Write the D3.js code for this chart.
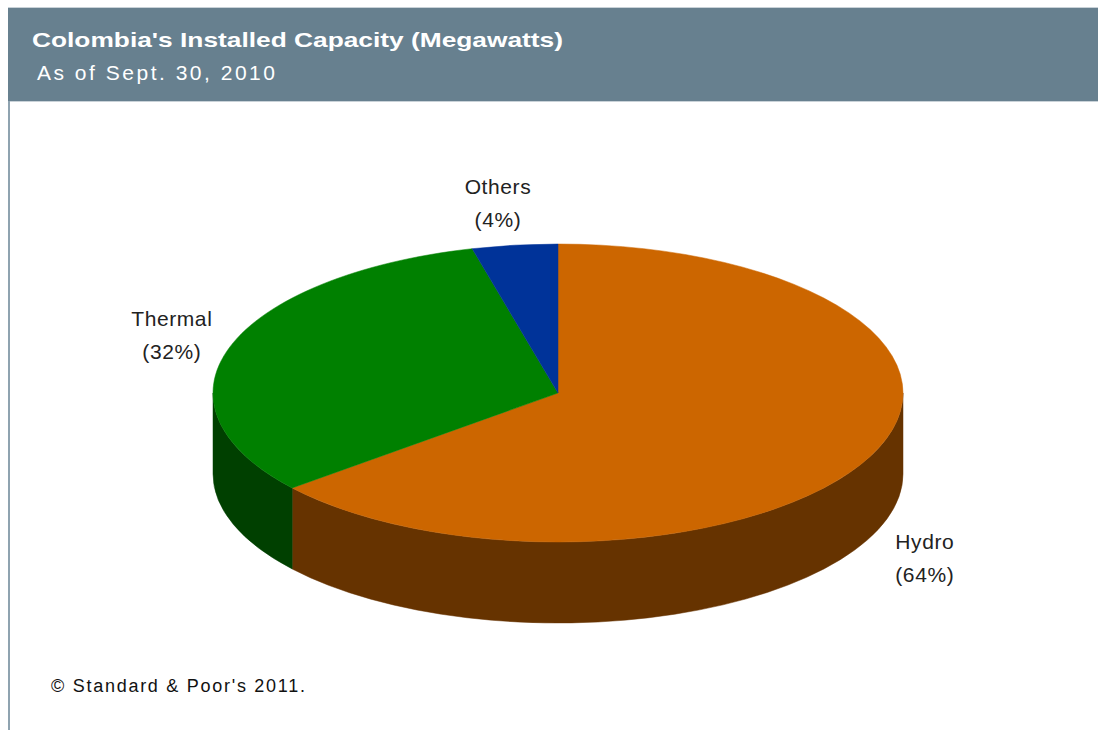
<!DOCTYPE html>
<html>
<head>
<meta charset="utf-8">
<script src="https://cdn.jsdelivr.net/npm/d3@7"></script>
<style>
  body { margin: 0; background: #fff; }
  svg { display: block; }
  text { font-family: "Liberation Sans", Arial, sans-serif; }
</style>
</head>
<body>
<script>
// chart data
const categories = ["Hydro", "Thermal", "Others"];
const shares = [64, 32, 4];
const topColors = ["#cc6600", "#008000", "#003399"];
const sideColors = ["#663300", "#004000", "#001a4d"];

const titleText = "Colombia's Installed Capacity (Megawatts)";
const subtitleText = "As of Sept. 30, 2010";
const footerText = "\u00a9 Standard & Poor's 2011.";

function ellipsePoint(cx, cy, rx, ry, a) {
  // d3.pie angles: 0 at 12 o'clock, clockwise
  return [cx + rx * Math.sin(a), cy - ry * Math.cos(a)];
}

function topPath(d, geo) {
  const { cx, cy, rx, ry } = geo;
  const p0 = ellipsePoint(cx, cy, rx, ry, d.startAngle);
  const p1 = ellipsePoint(cx, cy, rx, ry, d.endAngle);
  const large = d.endAngle - d.startAngle > Math.PI ? 1 : 0;
  return `M${cx},${cy}L${p0}A${rx},${ry} 0 ${large} 1 ${p1}Z`;
}

function sidePath(d, geo) {
  const { cx, cy, rx, ry, depth } = geo;
  // only the front half (90deg..270deg) is visible
  const a0 = Math.max(d.startAngle, Math.PI / 2);
  const a1 = Math.min(d.endAngle, Math.PI * 1.5);
  if (a1 <= a0) return null;
  const t0 = ellipsePoint(cx, cy, rx, ry, a0);
  const t1 = ellipsePoint(cx, cy, rx, ry, a1);
  const b0 = ellipsePoint(cx, cy + depth, rx, ry, a0);
  const b1 = ellipsePoint(cx, cy + depth, rx, ry, a1);
  return `M${t0}A${rx},${ry} 0 0 1 ${t1}L${b1}A${rx},${ry} 0 0 0 ${b0}Z`;
}

function drawChart(width = 1098, height = 730) {

  const svg = d3.select("body")
    .append("svg")
    .attr("width", width)
    .attr("height", height);

  // header band
  svg.append("rect")
    .attr("x", 8).attr("y", 7)
    .attr("width", width - 8).attr("height", 95)
    .attr("fill", "#c9d2d8");
  svg.append("rect")
    .attr("x", 8).attr("y", 8)
    .attr("width", width - 8).attr("height", 93)
    .attr("fill", "#67808f");

  // left frame line
  svg.append("line")
    .attr("x1", 9).attr("x2", 9)
    .attr("y1", 101).attr("y2", height)
    .attr("stroke", "#8fa3b0")
    .attr("stroke-width", 2);

  svg.append("text")
    .attr("x", 32).attr("y", 47)
    .attr("fill", "#fff")
    .attr("font-weight", "bold")
    .attr("font-size", 21)
    .attr("textLength", 531)
    .attr("lengthAdjust", "spacingAndGlyphs")
    .text(titleText);

  svg.append("text")
    .attr("x", 37).attr("y", 80)
    .attr("fill", "#fff")
    .attr("font-size", 21)
    .attr("textLength", 238)
    .attr("lengthAdjust", "spacing")
    .text(subtitleText);

  svg.append("text")
    .attr("x", 51).attr("y", 692)
    .attr("fill", "#111")
    .attr("font-size", 18)
    .attr("textLength", 254)
    .attr("lengthAdjust", "spacing")
    .text(footerText);

  // 3D pie geometry
  const geo = { cx: 558, cy: 393, rx: 345, ry: 149, depth: 81 };

  const data = categories.map((c, i) => ({ name: c, value: shares[i], idx: i }));
  const arcs = d3.pie().sort(null).value(d => d.value)(data);

  const pie = svg.append("g").attr("class", "pie");

  pie.selectAll("path.side")
    .data(arcs.filter(d => sidePath(d, geo)))
    .join("path")
    .attr("class", "side")
    .attr("d", d => sidePath(d, geo))
    .attr("fill", d => sideColors[d.data.idx])
    .attr("stroke", d => sideColors[d.data.idx])
    .attr("stroke-width", 0.5);

  pie.selectAll("path.top")
    .data(arcs)
    .join("path")
    .attr("class", "top")
    .attr("d", d => topPath(d, geo))
    .attr("fill", d => topColors[d.data.idx])
    .attr("stroke", d => topColors[d.data.idx])
    .attr("stroke-width", 0.5);

  // labels outside the pie, pushed further out near the top of the ellipse
  const labels = svg.append("g").attr("class", "labels")
    .selectAll("g")
    .data(arcs)
    .join("g")
    .attr("transform", d => {
      const mid = (d.startAngle + d.endAngle) / 2;
      const k = 1.175 + 0.22 * Math.max(0, Math.cos(mid)) ** 4;
      let [x, y] = ellipsePoint(geo.cx, geo.cy, geo.rx * k, geo.ry * 1.3, mid);
      if (Math.cos(mid) < 0) y += geo.depth;
      return `translate(${x},${y})`;
    });

  labels.append("text")
    .attr("text-anchor", "middle")
    .attr("y", -7)
    .attr("font-size", 21)
    .attr("letter-spacing", 0.6)
    .attr("fill", "#222")
    .text(d => d.data.name);

  labels.append("text")
    .attr("text-anchor", "middle")
    .attr("y", 26)
    .attr("font-size", 21)
    .attr("letter-spacing", 0.6)
    .attr("fill", "#222")
    .text(d => `(${d.data.value}%)`);
}

drawChart();
</script>
</body>
</html>
